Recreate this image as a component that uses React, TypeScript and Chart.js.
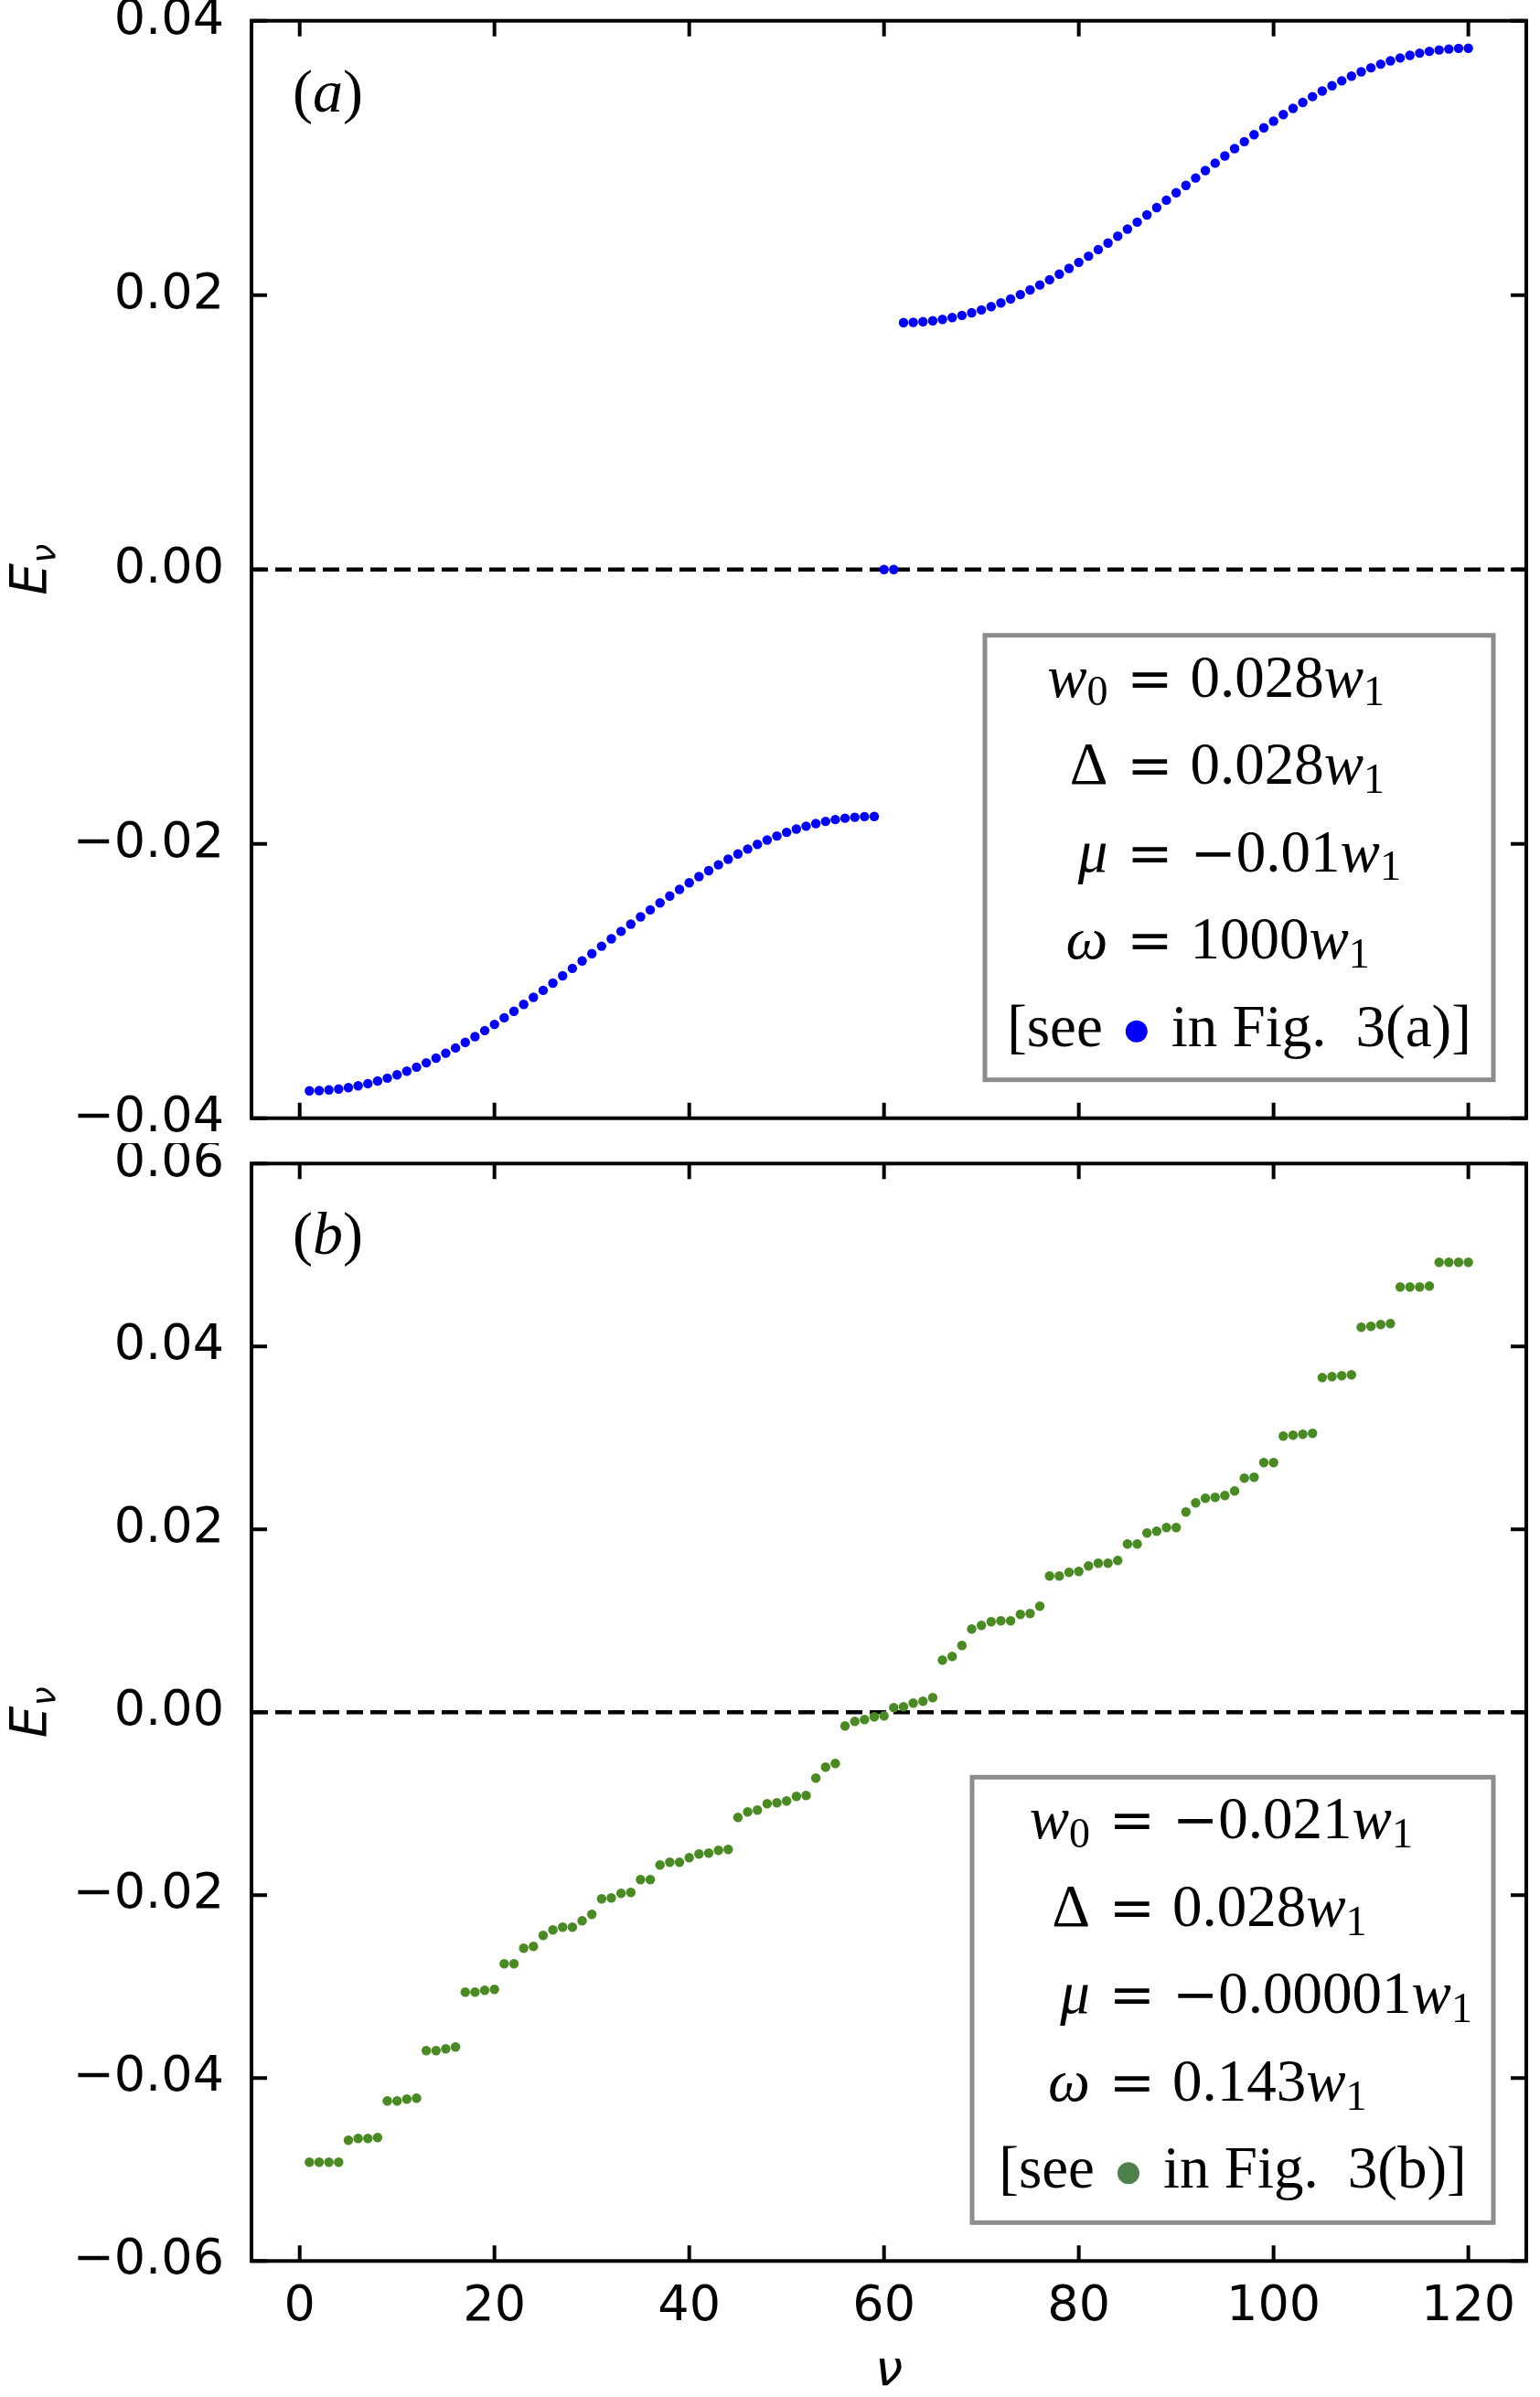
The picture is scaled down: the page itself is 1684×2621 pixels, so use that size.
import { useEffect, useRef } from "react";
import { Chart, registerables } from "chart.js";

Chart.register(...registerables);

// ---- panel (a): nu = 1..59 lower band, 60-61 zero modes, 62..120 upper band
const lowerStart = 1;
const lowerBand = [
  -0.038, -0.03799, -0.03794, -0.03787, -0.03777, -0.03764, -0.03748, -0.03729, -0.03708, -0.03684,
  -0.03657, -0.03628, -0.03596, -0.03562, -0.03526, -0.03488, -0.03447, -0.03405, -0.03361, -0.03316,
  -0.03268, -0.0322, -0.0317, -0.03119, -0.03068, -0.03015, -0.02962, -0.02908, -0.02854, -0.028,
  -0.02746, -0.02692, -0.02638, -0.02585, -0.02532, -0.02481, -0.0243, -0.0238, -0.02332, -0.02284,
  -0.02239, -0.02195, -0.02153, -0.02112, -0.02074, -0.02038, -0.02004, -0.01972, -0.01943, -0.01916,
  -0.01892, -0.01871, -0.01852, -0.01836, -0.01823, -0.01813, -0.01806, -0.01801, -0.018,
];
const zeroStart = 60;
const zeroModes = [0, 0];
const upperStart = 62;
const upperBand = [
  0.018, 0.01801, 0.01806, 0.01813, 0.01823, 0.01836, 0.01852, 0.01871, 0.01892, 0.01916,
  0.01943, 0.01972, 0.02004, 0.02038, 0.02074, 0.02112, 0.02153, 0.02195, 0.02239, 0.02284,
  0.02332, 0.0238, 0.0243, 0.02481, 0.02532, 0.02585, 0.02638, 0.02692, 0.02746, 0.028,
  0.02854, 0.02908, 0.02962, 0.03015, 0.03068, 0.03119, 0.0317, 0.0322, 0.03268, 0.03316,
  0.03361, 0.03405, 0.03447, 0.03488, 0.03526, 0.03562, 0.03596, 0.03628, 0.03657, 0.03684,
  0.03708, 0.03729, 0.03748, 0.03764, 0.03777, 0.03787, 0.03794, 0.03799, 0.038,
];

// ---- panel (b): nu = 1..120, staircase spectrum
const stepStart = 1;
const stepLevels = [
  -0.0492, -0.0492, -0.0492, -0.0492, -0.0468, -0.0466, -0.0466, -0.0465,
  -0.0425, -0.0425, -0.0423, -0.0422, -0.037, -0.037, -0.0368, -0.0366,
  -0.0306, -0.0306, -0.0304, -0.0303, -0.0275, -0.0275, -0.0258, -0.0256,
  -0.0244, -0.0238, -0.0235, -0.0235, -0.0228, -0.0221,
  -0.0204, -0.0203, -0.0198, -0.0197, -0.0183, -0.0183,
  -0.0167, -0.0164, -0.0164, -0.0159, -0.0155, -0.0154, -0.0151, -0.015,
  -0.0115, -0.0109, -0.0107, -0.01, -0.0099, -0.0097, -0.0092, -0.0091,
  -0.0072, -0.006, -0.0056, -0.0015, -0.001, -0.0008, -0.0005, -0.0004,
  0.0005, 0.0006, 0.001, 0.0012, 0.0016, 0.0057, 0.0061, 0.0073,
  0.0091, 0.0095, 0.0099, 0.01, 0.01, 0.0107, 0.0108, 0.0116,
  0.0149, 0.0149, 0.0153, 0.0154, 0.016, 0.0163, 0.0163, 0.0166,
  0.0184, 0.0184, 0.0196, 0.0198, 0.0202, 0.0202,
  0.0219, 0.0229, 0.0234, 0.0235, 0.0237, 0.0242, 0.0256, 0.0257,
  0.0273, 0.0273, 0.0302, 0.0303, 0.0304, 0.0305,
  0.0366, 0.0367, 0.0368, 0.0369, 0.0421, 0.0422, 0.0424, 0.0425,
  0.0465, 0.0465, 0.0465, 0.0466, 0.0492, 0.0492, 0.0492, 0.0492,
];

const xTicks = [0, 20, 40, 60, 80, 100, 120];
const xRange = [-4.95, 125.95];
const yTicksA = [-0.04, -0.02, 0, 0.02, 0.04];
const yTicksB = [-0.06, -0.04, -0.02, 0, 0.02, 0.04, 0.06];

type Run = { t: string; it?: boolean; sub?: boolean; op?: boolean };
type Line = { lhs: Run[]; rhs: Run[] };

const w1: Run[] = [{ t: "w", it: true }, { t: "1", sub: true }];
const w0: Run[] = [{ t: "w", it: true }, { t: "0", sub: true }];
const minus: Run = { t: "−", op: true };

const paramsA: Line[] = [
  { lhs: w0, rhs: [{ t: "0.028" }, ...w1] },
  { lhs: [{ t: "Δ" }], rhs: [{ t: "0.028" }, ...w1] },
  { lhs: [{ t: "μ", it: true }], rhs: [minus, { t: "0.01" }, ...w1] },
  { lhs: [{ t: "ω", it: true }], rhs: [{ t: "1000" }, ...w1] },
];
const paramsB: Line[] = [
  { lhs: w0, rhs: [minus, { t: "0.021" }, ...w1] },
  { lhs: [{ t: "Δ" }], rhs: [{ t: "0.028" }, ...w1] },
  { lhs: [{ t: "μ", it: true }], rhs: [minus, { t: "0.00001" }, ...w1] },
  { lhs: [{ t: "ω", it: true }], rhs: [{ t: "0.143" }, ...w1] },
];

const BLUE = "#0000ff";
const GREEN = "#4a8a22";
const SERIF = '"Liberation Serif", "Times New Roman", serif';
const OPS = '"DejaVu Serif", serif';
const SANS = '"DejaVu Sans", sans-serif';
const BOX_FONT = 65;

const toPoints = (start: number, vals: number[]) =>
  vals.map((y, i) => ({ x: start + i, y }));

function runFont(r: Run, size: number) {
  if (r.op) return `${Math.round(size * 0.92)}px ${OPS}`;
  const s = r.sub ? Math.round(size * 0.7) : size;
  return `${r.it ? "italic " : ""}${s}px ${SERIF}`;
}

function runsWidth(ctx: CanvasRenderingContext2D, runs: Run[], size: number) {
  let w = 0;
  for (const r of runs) {
    ctx.font = runFont(r, size);
    w += ctx.measureText(r.t).width;
  }
  return w;
}

function drawRuns(ctx: CanvasRenderingContext2D, runs: Run[], x: number, y: number, size: number) {
  for (const r of runs) {
    ctx.font = runFont(r, size);
    ctx.fillText(r.t, x, y + (r.sub ? size * 0.15 : 0));
    x += ctx.measureText(r.t).width;
  }
  return x;
}

const decor = {
  id: "panelDecor",
  afterDatasetsDraw(chart: any, _args: any, opts: any) {
    const { ctx, chartArea: a, scales } = chart;
    const xs = scales.x;
    const ys = scales.y;
    ctx.save();

    // frame + inward ticks
    ctx.strokeStyle = "#000";
    ctx.lineWidth = 4;
    ctx.strokeRect(a.left, a.top, a.right - a.left, a.bottom - a.top);
    ctx.beginPath();
    for (const v of xTicks) {
      const px = xs.getPixelForValue(v);
      ctx.moveTo(px, a.bottom);
      ctx.lineTo(px, a.bottom - 17);
      ctx.moveTo(px, a.top);
      ctx.lineTo(px, a.top + 17);
    }
    for (const v of opts.yTicks) {
      const py = ys.getPixelForValue(v);
      ctx.moveTo(a.left, py);
      ctx.lineTo(a.left + 17, py);
      ctx.moveTo(a.right, py);
      ctx.lineTo(a.right - 17, py);
    }
    ctx.stroke();

    ctx.fillStyle = "#000";
    ctx.textAlign = "left";
    ctx.textBaseline = "alphabetic";

    // panel tag
    drawRuns(
      ctx,
      [{ t: "(" }, { t: opts.tag, it: true }, { t: ")" }],
      a.left + 45,
      a.top + 99,
      66
    );

    // y title E_nu
    ctx.save();
    ctx.translate(50, (a.top + a.bottom) / 2);
    ctx.rotate(-Math.PI / 2);
    ctx.font = `italic 55px ${SANS}`;
    const eW = ctx.measureText("E").width;
    ctx.font = `italic 38px ${SANS}`;
    const nW = ctx.measureText("ν").width;
    const x0 = -(eW + nW) / 2;
    ctx.font = `italic 55px ${SANS}`;
    ctx.fillText("E", x0, 0);
    ctx.font = `italic 38px ${SANS}`;
    ctx.fillText("ν", x0 + eW, 10);
    ctx.restore();

    // parameter box
    const bw = opts.boxW;
    const bh = opts.boxH;
    const bx = a.right - 36 - bw;
    const by = a.bottom - 42 - bh;
    ctx.fillStyle = "#fff";
    ctx.fillRect(bx, by, bw, bh);
    ctx.strokeStyle = "#8c8c8c";
    ctx.lineWidth = 5;
    ctx.strokeRect(bx, by, bw, bh);

    ctx.fillStyle = "#000";
    const eqX = bx + opts.eqX;
    opts.lines.forEach((ln: Line, i: number) => {
      const y = by + 67 + i * 95.5;
      const lw = runsWidth(ctx, ln.lhs, BOX_FONT);
      drawRuns(ctx, ln.lhs, eqX - 46 - lw, y, BOX_FONT);
      ctx.font = `${Math.round(BOX_FONT * 0.92)}px ${OPS}`;
      ctx.textAlign = "center";
      ctx.fillText("=", eqX, y);
      ctx.textAlign = "left";
      drawRuns(ctx, ln.rhs, eqX + 44, y, BOX_FONT);
    });

    // [see • in Fig. 3(x)]
    const y5 = by + 67 + 4 * 95.5;
    ctx.font = `${BOX_FONT}px ${SERIF}`;
    const p1 = "[see";
    const p2 = "in Fig.";
    const p3 = `3(${opts.tag})]`;
    const w1t = ctx.measureText(p1).width;
    const w2t = ctx.measureText(p2).width;
    const w3t = ctx.measureText(p3).width;
    const r = 12;
    const total = w1t + 25 + 2 * r + 26 + w2t + 32 + w3t;
    let cx = bx + bw / 2 - total / 2;
    ctx.fillText(p1, cx, y5);
    cx += w1t + 25;
    ctx.fillStyle = opts.dot;
    ctx.beginPath();
    ctx.arc(cx + r, y5 - 16, r, 0, Math.PI * 2);
    ctx.fill();
    cx += 2 * r + 26;
    ctx.fillStyle = "#000";
    ctx.fillText(p2, cx, y5);
    cx += w2t + 32;
    ctx.fillText(p3, cx, y5);

    ctx.restore();
  },
};

const fmtY = (v: number) =>
  v === 0 ? "0.00" : (v < 0 ? "−" : "") + Math.abs(v).toFixed(2);

type PanelProps = {
  top: number;
  height: number;
  padTop: number;
  xAxisH: number;
  showX: boolean;
  yTicks: number[];
  datasets: any[];
  decorOpts: any;
};

function Panel({ top, height, padTop, xAxisH, showX, yTicks, datasets, decorOpts }: PanelProps) {
  const ref = useRef<HTMLCanvasElement | null>(null);
  const chartRef = useRef<Chart | null>(null);

  useEffect(() => {
    const canvas = ref.current;
    if (!canvas) return;
    chartRef.current?.destroy();

    const zeroLine = {
      type: "line",
      data: [
        { x: xRange[0], y: 0 },
        { x: xRange[1], y: 0 },
      ],
      showLine: true,
      borderColor: "#000",
      borderWidth: 4.5,
      borderDash: [18, 8],
      pointRadius: 0,
      order: 5,
    };

    chartRef.current = new Chart(canvas, {
      type: "scatter",
      data: { datasets: [...datasets, zeroLine] as any },
      options: {
        animation: false,
        responsive: true,
        maintainAspectRatio: false,
        events: [],
        layout: { padding: { top: padTop, right: 15, bottom: 0, left: 0 } },
        plugins: {
          legend: { display: false },
          tooltip: { enabled: false },
          panelDecor: { ...decorOpts, yTicks },
        } as any,
        scales: {
          x: {
            type: "linear",
            min: xRange[0],
            max: xRange[1],
            afterBuildTicks: (s: any) => {
              s.ticks = xTicks.map((value) => ({ value }));
            },
            afterFit: (s: any) => {
              s.height = xAxisH;
              s.paddingLeft = 0;
              s.paddingRight = 0;
            },
            grid: { display: false, drawTicks: false },
            border: { display: false },
            ticks: {
              display: showX,
              color: "#000",
              padding: 18,
              maxRotation: 0,
              autoSkip: false,
              font: { family: SANS, size: 54 },
              callback: (v: any) => String(v),
            },
            title: {
              display: showX,
              text: "ν",
              color: "#000",
              padding: 0,
              font: { family: SANS, size: 54, style: "italic", lineHeight: 1 },
            },
          },
          y: {
            type: "linear",
            min: yTicks[0],
            max: yTicks[yTicks.length - 1],
            afterBuildTicks: (s: any) => {
              s.ticks = yTicks.map((value) => ({ value }));
            },
            afterFit: (s: any) => {
              s.width = 275;
              s.paddingTop = 0;
              s.paddingBottom = 0;
            },
            grid: { display: false, drawTicks: false },
            border: { display: false },
            ticks: {
              color: "#000",
              padding: 30,
              autoSkip: false,
              font: { family: SANS, size: 54 },
              callback: (v: any) => fmtY(Number(v)),
            },
          },
        },
      },
      plugins: [decor as any],
    });

    return () => {
      chartRef.current?.destroy();
      chartRef.current = null;
    };
  }, []);

  return (
    <div style={{ position: "absolute", left: 0, top, width: 1684, height }}>
      <canvas ref={ref}></canvas>
    </div>
  );
}

const dot = (color: string) => ({
  showLine: false,
  pointRadius: 5.2,
  pointBorderWidth: 0,
  pointBackgroundColor: color,
  borderColor: color,
  order: 1,
});

export default function App() {
  const datasetsA = [
    { label: "lower", data: toPoints(lowerStart, lowerBand), ...dot(BLUE) },
    { label: "zero", data: toPoints(zeroStart, zeroModes), ...dot(BLUE) },
    { label: "upper", data: toPoints(upperStart, upperBand), ...dot(BLUE) },
  ];
  const datasetsB = [{ label: "E", data: toPoints(stepStart, stepLevels), ...dot(GREEN) }];

  return (
    <div style={{ position: "absolute", left: 0, top: 0, width: 1684, height: 2621, background: "#fff" }}>
      <Panel
        top={0}
        height={1250}
        padTop={22.7}
        xAxisH={27.3}
        showX={false}
        yTicks={yTicksA}
        datasets={datasetsA}
        decorOpts={{ tag: "a", boxW: 556, boxH: 486, eqX: 180.5, lines: paramsA, dot: BLUE }}
      />
      <Panel
        top={1250}
        height={1371}
        padTop={22.3}
        xAxisH={148.7}
        showX={true}
        yTicks={yTicksB}
        datasets={datasetsB}
        decorOpts={{ tag: "b", boxW: 570, boxH: 487, eqX: 175, lines: paramsB, dot: "#4e8049" }}
      />
    </div>
  );
}
